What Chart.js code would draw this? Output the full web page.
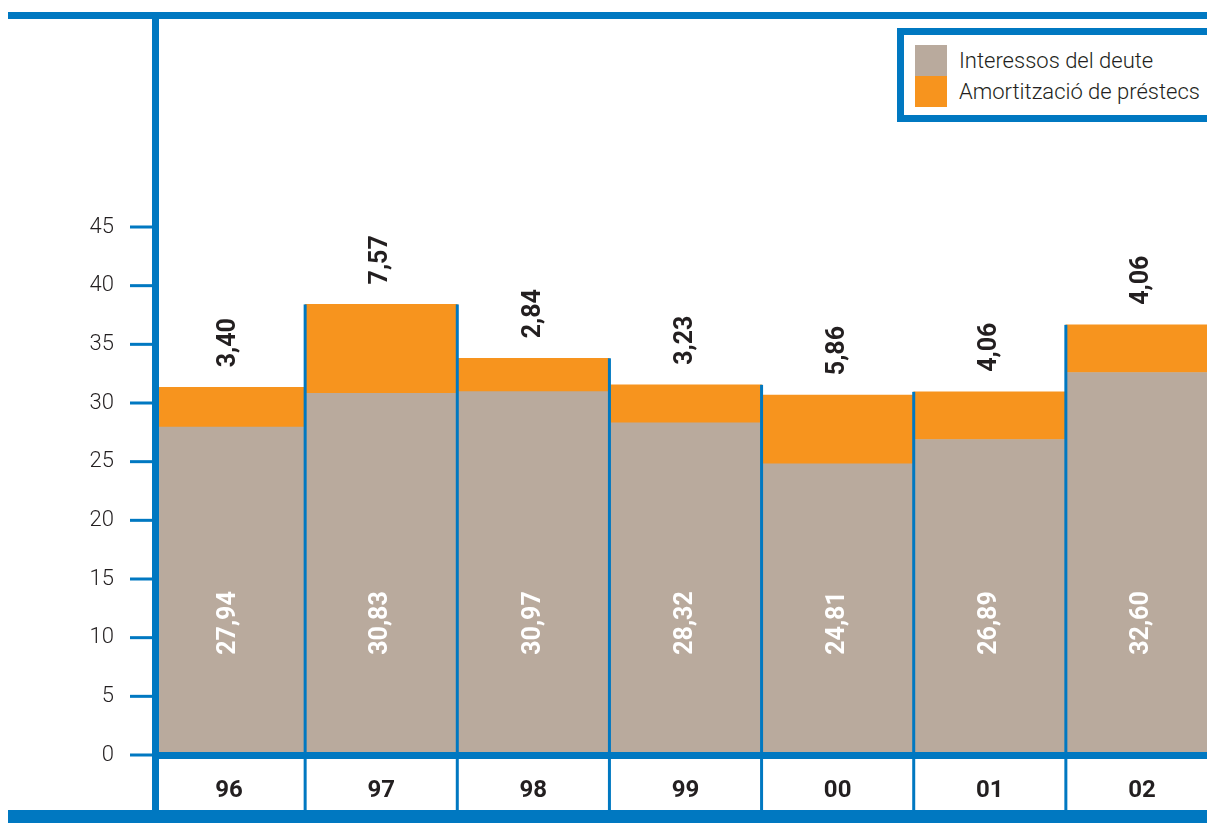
<!DOCTYPE html>
<html>
<head>
<meta charset="utf-8">
<script src="https://cdn.jsdelivr.net/npm/chart.js@4/dist/chart.umd.min.js"></script>
<style>
  html, body { margin: 0; padding: 0; background: #fff; overflow: hidden; }
  #wrap { position: relative; width: 1207px; height: 823px; overflow: hidden; }
  #debtChart { position: absolute; left: 0; top: 0; }
  #legend {
    position: absolute; left: 897px; top: 28px; width: 340px;
    border: 7px solid #0078c1; padding: 10px 0 8px 11px; background: #fff;
    font-family: Roboto, sans-serif; font-weight: 300; font-size: 22px; color: #231f20;
  }
  .row { display: flex; align-items: center; height: 31px; white-space: nowrap; }
  .sw { width: 32px; height: 31px; margin-right: 12px; flex: none; }
</style>
</head>
<body>
<div id="wrap">
  <canvas id="debtChart" width="1218" height="823"></canvas>
  <div id="legend"></div>
</div>
<script>
const years = ['96', '97', '98', '99', '00', '01', '02'];
const interessos = [27.94, 30.83, 30.97, 28.32, 24.81, 26.89, 32.60];
const amortitzacio = [3.40, 7.57, 2.84, 3.23, 5.86, 4.06, 4.06];

const BLUE = '#0078c1';
const INK = '#231f20';

function fmt(v) {
    return v.toFixed(2).replace('.', ',');
}

// blue frame, axis, tick marks and column separators
const framePlugin = {
    id: 'frame',
    afterDraw(chart) {
        const ctx = chart.ctx;
        const area = chart.chartArea;
        const y = chart.scales.y;
        const x = chart.scales.x;
        const top = chart.getDatasetMeta(1).data;
        ctx.save();
        ctx.fillStyle = BLUE;

        // column separators
        for (let i = 0; i < years.length - 1; i++) {
            const sx = (x.getPixelForValue(i) + x.getPixelForValue(i + 1)) / 2;
            const sy = Math.min(top[i].y, top[i + 1].y);
            ctx.fillRect(sx - 1.5, sy, 3, 810 - sy);
        }

        // y tick marks
        y.ticks.forEach(t => {
            const py = y.getPixelForValue(t.value);
            ctx.fillRect(130, py - 1.5, 24, 3);
        });

        ctx.fillRect(8, 12, chart.width, 7);          // top rule
        ctx.fillRect(152, 12, 7, 800);                // y axis
        ctx.fillRect(152, area.bottom - 3, chart.width, 7); // baseline
        ctx.fillRect(8, 810, chart.width, 13);        // bottom band
        ctx.restore();
    }
};

// rotated value labels
const valuePlugin = {
    id: 'values',
    afterDatasetsDraw(chart) {
        const ctx = chart.ctx;
        const low = chart.getDatasetMeta(0).data;
        const high = chart.getDatasetMeta(1).data;
        ctx.save();
        ctx.font = 'bold 25px Roboto, sans-serif';
        ctx.textBaseline = 'middle';
        low.forEach((bar, i) => {
            ctx.save();
            ctx.translate(bar.x, bar.base - 132);
            ctx.rotate(-Math.PI / 2);
            ctx.fillStyle = '#ffffff';
            ctx.textAlign = 'center';
            ctx.fillText(fmt(interessos[i]), 0, 0);
            ctx.restore();
        });
        high.forEach((bar, i) => {
            ctx.save();
            ctx.translate(bar.x, bar.y - 20);
            ctx.rotate(-Math.PI / 2);
            ctx.fillStyle = INK;
            ctx.textAlign = 'left';
            ctx.fillText(fmt(amortitzacio[i]), 0, 0);
            ctx.restore();
        });
        ctx.restore();
    }
};

const chart = new Chart(document.getElementById('debtChart').getContext('2d'), {
    type: 'bar',
    data: {
        labels: years,
        datasets: [{
            label: 'Interessos del deute',
            data: interessos,
            backgroundColor: '#b9aa9d',
        }, {
            label: 'Amortització de préstecs',
            data: amortitzacio,
            backgroundColor: '#f7941e',
        }]
    },
    options: {
        responsive: false,
        animation: false,
        devicePixelRatio: 1,
        layout: { padding: { top: 227, right: 0, left: 0, bottom: 0 } },
        datasets: {
            bar: { categoryPercentage: 1, barPercentage: 1, borderWidth: 0 }
        },
        plugins: { legend: { display: false }, tooltip: { enabled: false } },
        scales: {
            x: {
                stacked: true,
                grid: { display: false, drawTicks: false },
                border: { display: false },
                ticks: {
                    color: INK,
                    padding: 22,
                    font: { family: 'Roboto', weight: 'bold', size: 24 }
                },
                afterFit(scale) { scale.height = 68; }
            },
            y: {
                stacked: true,
                min: 0,
                max: 45,
                grid: { display: false, drawTicks: false },
                border: { display: false },
                ticks: {
                    stepSize: 5,
                    color: INK,
                    padding: 39,
                    font: { family: 'Roboto', weight: 300, size: 22 }
                },
                afterFit(scale) { scale.width = 153; }
            }
        }
    },
    plugins: [valuePlugin, framePlugin]
});

// legend box built from the datasets
const legend = document.getElementById('legend');
chart.data.datasets.forEach(ds => {
    const row = document.createElement('div');
    row.className = 'row';
    const sw = document.createElement('span');
    sw.className = 'sw';
    sw.style.background = ds.backgroundColor;
    const txt = document.createElement('span');
    txt.textContent = ds.label;
    row.appendChild(sw);
    row.appendChild(txt);
    legend.appendChild(row);
});
</script>
</body>
</html>
